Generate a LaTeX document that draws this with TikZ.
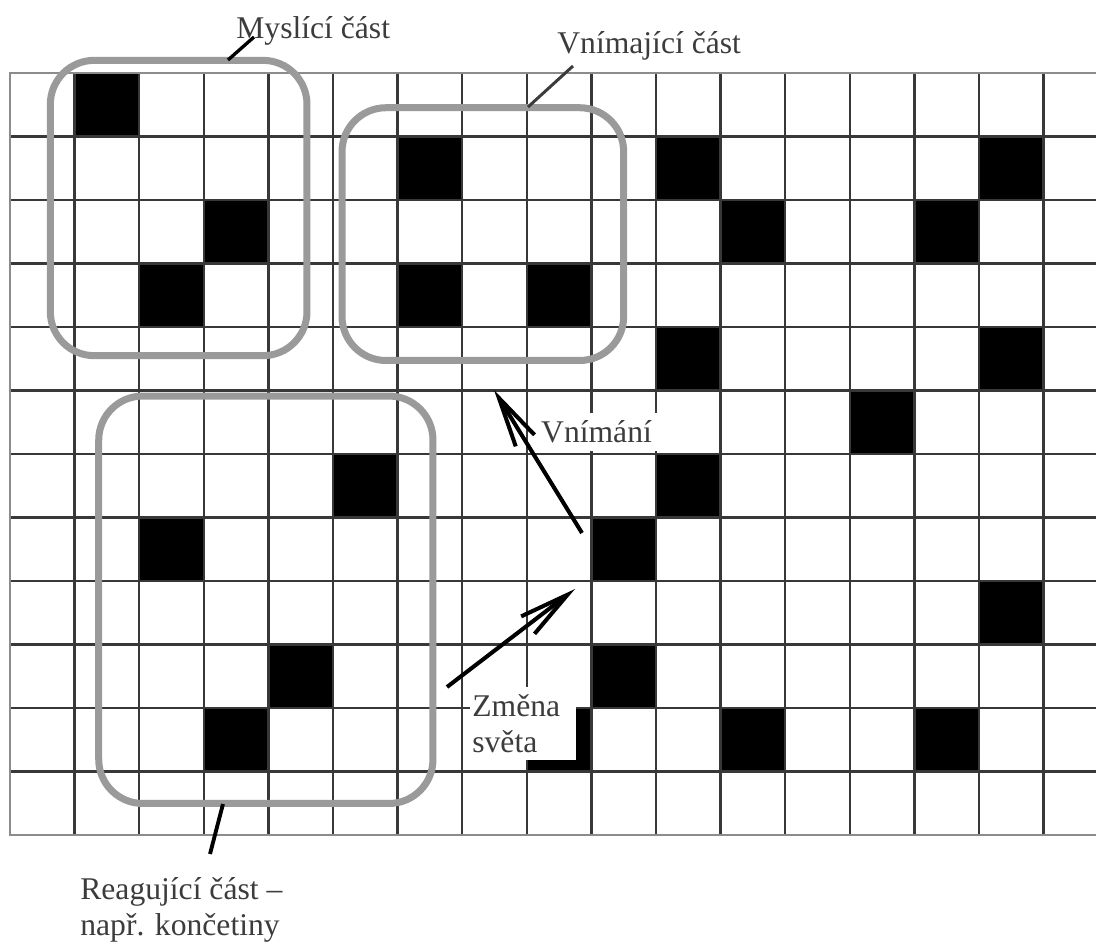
\documentclass[tikz,border=0pt]{standalone}
\usepackage{fontspec}
\setmainfont{Liberation Serif}
\usetikzlibrary{positioning,arrows.meta,calc}
\definecolor{txtgray}{HTML}{3C3C3C}
\definecolor{gridgray}{HTML}{383838}
\definecolor{edgegray}{HTML}{8C8C8C}
\definecolor{partgray}{HTML}{9A9A9A}
\tikzset{
  >={Straight Barb[length=1cm,width=0.44cm]},
  gridline/.style={draw=gridgray, line width=1.45pt},
  edgeline/.style={draw=edgegray, line width=1.1pt},
  cell/.style={fill=black},
  partbox/.style={draw=partgray, line width=4pt, rounded corners=0.88cm, inner sep=0pt},
  lab/.style={font=\fontsize{18}{20.2}\selectfont, text=txtgray, inner sep=0pt},
  tag/.style={lab, fill=white},
  pointer/.style={line width=1.9pt},
  flow/.style={->, line width=2.3pt}
}

\begin{document}
\begin{tikzpicture}[x=0.02cm, y=-0.02cm]
\def\gx{10} \def\gy{72.7} \def\cw{64.6} \def\ch{63.55}
\useasboundingbox (0,0) rectangle (1096,943);
% black cells
\foreach \c/\r in {1/0, 6/1, 10/1, 15/1, 3/2, 11/2, 14/2, 2/3, 6/3, 8/3, 10/4, 15/4, 13/5,
                   5/6, 10/6, 2/7, 9/7, 15/8, 4/9, 9/9, 3/10, 8/10, 11/10, 14/10}
  \fill[cell] ({\gx+\c*\cw},{\gy+\r*\ch}) rectangle ++(\cw,\ch);
% grid
\foreach \c in {1,...,16}
  \draw[gridline] ({\gx+\c*\cw},\gy) -- ({\gx+\c*\cw},{\gy+12*\ch});
\foreach \r in {1,...,11}
  \draw[gridline] (\gx,{\gy+\r*\ch}) -- (1096,{\gy+\r*\ch});
\draw[edgeline] (1096,\gy) -- (\gx,\gy) -- (\gx,{\gy+12*\ch}) -- (1096,{\gy+12*\ch});
% parts of the creature
\node[partbox, minimum width=5.134cm, minimum height=5.908cm] (think) at (178.65,208) {};
\node[partbox, minimum width=5.634cm, minimum height=5.056cm] (sense) at (482.85,234.1) {};
\node[partbox, minimum width=6.686cm, minimum height=8.15cm] (react) at (265.85,599.75) {};
% labels
\node[lab, anchor=base west] (thinklab) at (236,38) {Myslící část};
\node[lab, anchor=base west] (senselab) at (557,53) {Vnímající část};
\node[tag, minimum width=2.54cm, minimum height=0.76cm] (perc) at (596.5,432) {Vnímání};
\node[tag, anchor=north west, text width=2.04cm, inner xsep=0.04cm, minimum height=1.46cm, align=left] (change) at (470,687) {Změna\\světa};
\node[lab, anchor=base west, align=left] (reactlab) at (80,935) {Reagující část –\\např. končetiny};
% pointers
\coordinate (thinkpt) at (228,60);
\coordinate (thinkend) at (254,37);
\coordinate (sensept) at (528,107);
\coordinate (senseend) at (573,66);
\coordinate (reactpt) at (223,804);
\coordinate (reactend) at (210,854);
\draw[pointer] (thinkpt) -- (thinkend);
\draw[pointer, draw=txtgray, line width=1.7pt] (sensept) -- (senseend);
\draw[pointer, line width=2.2pt] (reactpt) -- (reactend);
% arrows
\coordinate (worldsrc) at (447,687);
\coordinate (worldtip) at (575,589);
\coordinate (percsrc) at (582,533);
\coordinate (perctip) at (494,390);
\draw[flow] (worldsrc) -- (worldtip);
\draw[flow] (percsrc) -- (perctip);
\end{tikzpicture}
\end{document}
